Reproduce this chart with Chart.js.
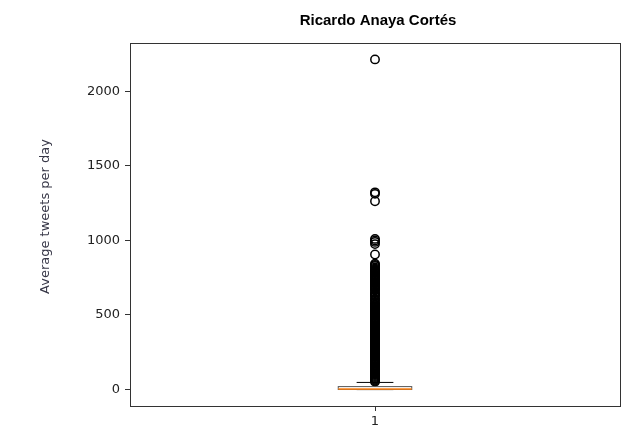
<!DOCTYPE html>
<html>
<head>
<meta charset="utf-8">
<script src="https://cdn.jsdelivr.net/npm/chart.js@4/dist/chart.umd.min.js"></script>
<style>
  html, body { margin: 0; padding: 0; background: #fff; }
  #wrap { width: 633px; height: 433px; }
</style>
</head>
<body>
<div id="wrap"><canvas id="c" width="633" height="433"></canvas></div>
<script>
// Box plot of average tweets per day
const chartTitle = 'Ricardo Anaya Cortés';
const yAxisLabel = 'Average tweets per day';
const categories = ['1'];

// five-number summary per category
const whiskerLow = [0];
const quartile1 = [0.5];
const medians = [4];
const quartile3 = [20];
const whiskerHigh = [48];

// points beyond the upper whisker
const outliers = [
  2213, 1322, 1312, 1262, 1010, 1000, 990, 975, 905,
  843, 836, 829, 818, 811, 804, 797, 791, 785, 779, 772, 766, 760, 754,
  748, 741, 735, 729, 722, 716, 710, 703, 697, 690, 684, 678, 671, 665,
  651, 645, 638, 632, 625, 611, 604, 598, 585, 579, 572, 566, 560, 553,
  547, 541, 535, 529, 522, 516, 510, 503, 497, 491, 484, 478, 472, 466,
  459, 453, 447, 441, 434, 428, 422, 416, 409, 403, 397, 391, 384, 378,
  372, 366, 359, 353, 347, 341, 334, 328, 322, 316, 309, 303, 297, 291,
  284, 278, 272, 266, 259, 253, 247, 241, 234, 228, 222, 216, 209, 203,
  197, 191, 184, 178, 172, 166, 159, 153, 147, 141, 134, 128, 122, 116,
  109, 103, 97, 91, 84, 78, 72, 66, 59, 53
];

const yTicks = [0, 500, 1000, 1500, 2000];
const yMin = -110;
const yMax = 2323;
const boxWidth = 0.15;

const boxPlugin = {
  id: 'boxes',
  afterDatasetsDraw(chart) {
    const ctx = chart.ctx;
    const xs = chart.scales.x, ys = chart.scales.y;
    ctx.save();
    categories.forEach((c, i) => {
      const pos = i + 1;
      const xl = xs.getPixelForValue(pos - boxWidth / 2);
      const xr = xs.getPixelForValue(pos + boxWidth / 2);
      const xc = xs.getPixelForValue(pos);
      const cl = xs.getPixelForValue(pos - boxWidth / 4);
      const cr = xs.getPixelForValue(pos + boxWidth / 4);
      const yq1 = ys.getPixelForValue(quartile1[i]);
      const yq3 = ys.getPixelForValue(quartile3[i]);
      const ylo = ys.getPixelForValue(whiskerLow[i]);
      const yhi = ys.getPixelForValue(whiskerHigh[i]);
      const ymed = ys.getPixelForValue(medians[i]);
      ctx.strokeStyle = '#000';
      ctx.lineWidth = 1;
      ctx.beginPath();
      ctx.moveTo(xc, yq3); ctx.lineTo(xc, yhi);
      ctx.moveTo(xc, yq1); ctx.lineTo(xc, ylo);
      ctx.moveTo(cl, yhi); ctx.lineTo(cr, yhi);
      ctx.moveTo(cl, ylo); ctx.lineTo(cr, ylo);
      ctx.stroke();
      ctx.strokeStyle = '#555';
      ctx.strokeRect(xl, yq3, xr - xl, yq1 - yq3);
      ctx.strokeStyle = '#ff7f0e';
      ctx.lineWidth = 1.5;
      ctx.beginPath();
      ctx.moveTo(xl, ymed); ctx.lineTo(xr, ymed);
      ctx.stroke();
    });
    ctx.restore();
  },
  afterDraw(chart) {
    const ctx = chart.ctx;
    const a = chart.chartArea;
    ctx.save();
    ctx.strokeStyle = '#333';
    ctx.lineWidth = 1;
    ctx.strokeRect(Math.round(a.left) + 0.5, Math.round(a.top) + 0.5,
                   Math.round(a.right - a.left), Math.round(a.bottom - a.top));
    ctx.fillStyle = '#000';
    ctx.font = 'bold 15px "Liberation Sans", Arial, sans-serif';
    ctx.textAlign = 'center';
    ctx.textBaseline = 'alphabetic';
    ctx.fillText(chartTitle, (a.left + a.right) / 2 + 3, 25);
    ctx.translate(46, 216.5);
    ctx.rotate(-Math.PI / 2);
    ctx.fillStyle = '#383848';
    ctx.font = '13px "DejaVu Sans", sans-serif';
    ctx.textBaseline = 'middle';
    ctx.fillText(yAxisLabel, 0, 0);
    ctx.restore();
  }
};

new Chart(document.getElementById('c'), {
  type: 'scatter',
  data: {
    datasets: [{
      data: outliers.map(v => ({ x: 1, y: v })),
      pointStyle: 'circle',
      pointRadius: 4.2,
      pointHoverRadius: 4.2,
      borderColor: '#000',
      borderWidth: 1.5,
      backgroundColor: 'rgba(0,0,0,0)'
    }]
  },
  options: {
    responsive: false,
    animation: false,
    devicePixelRatio: 1,
    layout: { padding: { left: 0, right: 13, top: 43, bottom: 0 } },
    plugins: { legend: { display: false }, title: { display: false }, tooltip: { enabled: false } },
    scales: {
      x: {
        type: 'linear',
        min: 0.5,
        max: 1.5,
        afterBuildTicks: s => { s.ticks = categories.map((c, i) => ({ value: i + 1 })); },
        afterFit: s => { s.height = 27; },
        ticks: {
          callback: (v) => categories[Math.round(v) - 1],
          color: '#222',
          font: { family: 'DejaVu Sans', size: 13 },
          padding: 3,
          maxRotation: 0
        },
        grid: { drawOnChartArea: false, drawTicks: true, tickLength: 5, tickColor: '#333' },
        border: { display: false }
      },
      y: {
        type: 'linear',
        min: yMin,
        max: yMax,
        afterBuildTicks: s => { s.ticks = yTicks.map(v => ({ value: v })); },
        afterFit: s => { s.width = 130; },
        ticks: {
          callback: (v) => String(v),
          color: '#222',
          font: { family: 'DejaVu Sans', size: 13 },
          padding: 5
        },
        grid: { drawOnChartArea: false, drawTicks: true, tickLength: 5, tickColor: '#333' },
        border: { display: false }
      }
    }
  },
  plugins: [boxPlugin]
});
</script>
</body>
</html>
